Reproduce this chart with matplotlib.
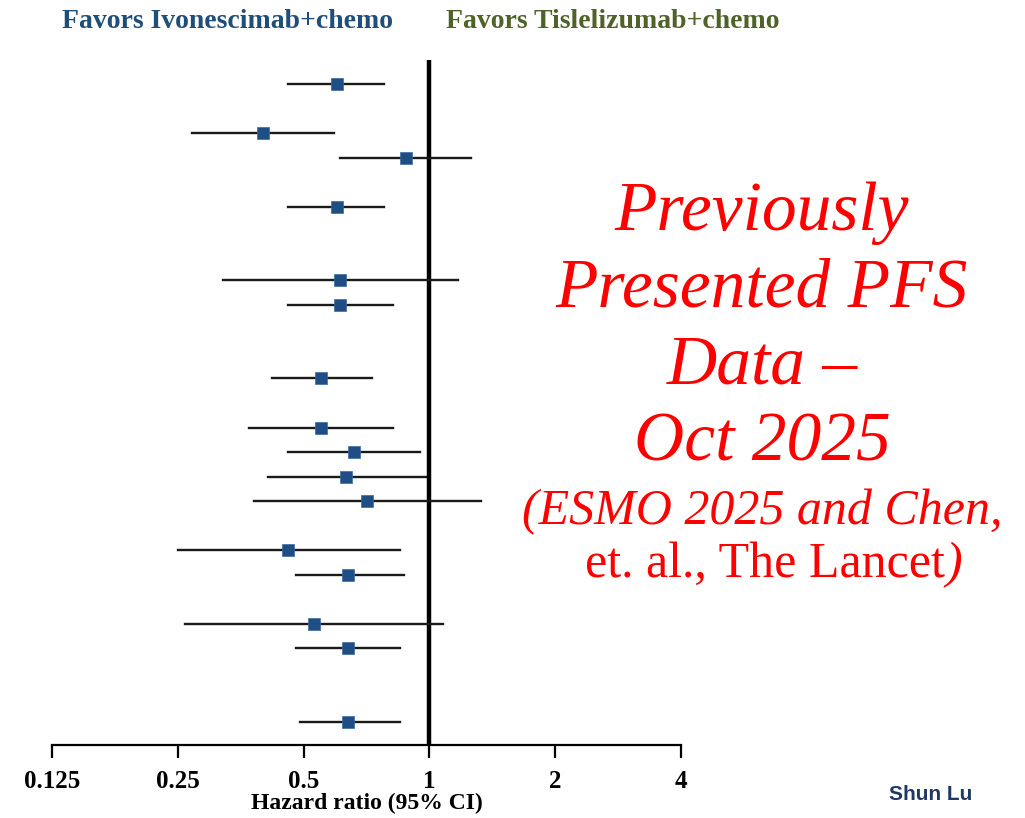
import matplotlib
matplotlib.use("Agg")
import matplotlib.pyplot as plt
from matplotlib.ticker import FixedLocator, FixedFormatter

# subgroup rows (index from top, gaps are header rows), HR and 95% CI
rows = [0, 2, 3, 5, 8, 9, 12, 14, 15, 16, 17, 19, 20, 22, 23, 26]
hr = [0.60, 0.40, 0.88, 0.60, 0.61, 0.61, 0.55, 0.55, 0.66, 0.63, 0.71,
      0.46, 0.64, 0.53, 0.64, 0.64]
ci_lo = [0.46, 0.27, 0.61, 0.46, 0.32, 0.46, 0.42, 0.37, 0.46, 0.41, 0.38,
         0.25, 0.48, 0.26, 0.48, 0.49]
ci_hi = [0.78, 0.59, 1.26, 0.78, 1.17, 0.82, 0.73, 0.82, 0.95, 0.98, 1.33,
         0.85, 0.87, 1.08, 0.85, 0.85]
ticks = [0.125, 0.25, 0.5, 1, 2, 4]
tick_labels = ["0.125", "0.25", "0.5", "1", "2", "4"]

W, H = 1025, 818
fig = plt.figure(figsize=(W / 100, H / 100), dpi=100)
ax = fig.add_axes([52 / W, 1 - 745 / H, (681 - 52) / W, (745 - 60) / H])

serif = "Liberation Serif"
blue = "#1F4E79"
green = "#4F6228"

for r, m, lo, hi in zip(rows, hr, ci_lo, ci_hi):
    ax.plot([lo, hi], [r, r], color="#1a1a1a", lw=1.7, zorder=2)
ax.plot(hr, rows, "s", color="#1F4E85", markersize=8.5, zorder=3,
        markeredgecolor="#3a6aa0", markeredgewidth=0.5)
ax.axvline(1, color="black", lw=3.2, zorder=1)

ax.set_xscale("log", base=2)
ax.set_xlim(0.125, 4)
ax.set_ylim(26.94, -0.98)
ax.xaxis.set_major_locator(FixedLocator(ticks))
ax.xaxis.set_major_formatter(FixedFormatter(tick_labels))
ax.xaxis.set_minor_locator(FixedLocator([]))
ax.set_yticks([])
for s in ["top", "right", "left"]:
    ax.spines[s].set_visible(False)
ax.spines["bottom"].set_linewidth(1.6)
ax.tick_params(axis="x", direction="out", length=9, width=1.6, pad=9)
for lab in ax.get_xticklabels():
    lab.set_fontfamily(serif)
    lab.set_fontweight("bold")
    lab.set_fontsize(18)
ax.set_xlabel("Hazard ratio (95% CI)", family=serif, weight="bold",
              fontsize=17, labelpad=0)

fig.text(62 / W, 1 - 21 / H, "Favors Ivonescimab+chemo", family=serif,
         weight="bold", fontsize=20, color=blue, va="center", ha="left")
fig.text(446 / W, 1 - 21 / H, "Favors Tislelizumab+chemo", family=serif,
         weight="bold", fontsize=20, color=green, va="center", ha="left")

red = "#FF0000"
big = ["Previously", "Presented PFS", "Data \u2013", "Oct 2025"]
for i, line in enumerate(big):
    fig.text(762 / W, 1 - (213 + 77 * i) / H, line, family=serif,
             style="italic", fontsize=50, color=red, ha="center", va="center")
fig.text(762 / W, 1 - 512 / H, "(ESMO 2025 and Chen,", family=serif,
         style="italic", fontsize=36, color=red, ha="center", va="center")
fig.text(945 / W, 1 - 565 / H, "et. al., The Lancet", family=serif,
         fontsize=36, color=red, ha="right", va="center")
fig.text(945 / W, 1 - 565 / H, ")", family=serif, style="italic",
         fontsize=36, color=red, ha="left", va="center")

fig.text(931 / W, 1 - 795 / H, "Shun Lu", family="Liberation Sans",
         weight="bold", fontsize=15, color="#1F3864", ha="center", va="center")

fig.savefig("out.png", dpi=100)
